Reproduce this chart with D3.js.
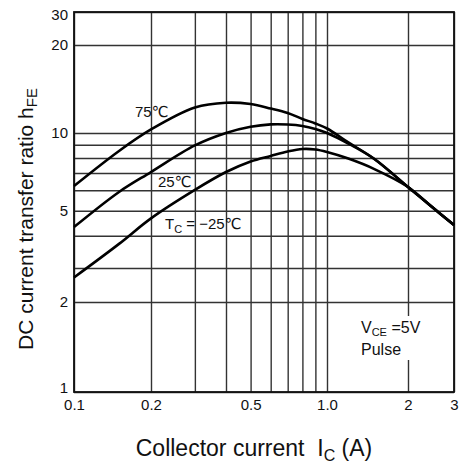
<!DOCTYPE html>
<html>
<head>
  <title>DC current transfer ratio</title>
  <script src="https://d3js.org/d3.v7.min.js"></script>
  <style>
    body { margin: 0; background: #fff; }
    text { font-family: "Liberation Sans", Arial, "DejaVu Sans", sans-serif; fill: #111; }
  </style>
</head>
<body>
<script type="text/javascript">

// ****** DATA ******

  // collector current Ic (A)
  var currents = [0.1, 0.15, 0.2, 0.3, 0.4, 0.5, 0.6, 0.7, 0.8, 0.9, 1.0, 1.2, 1.5, 2, 2.5, 3];
  // hFE for each case temperature
  var hfe75  = [6.23, 8.52, 10.28, 12.22, 12.69, 12.56, 12.13, 11.71, 11.17, 10.78, 10.36, 9.2, 7.93, 6.18, 5.12, 4.40];
  var hfe25  = [4.32, 5.91, 7.06, 8.95, 10.0, 10.5, 10.7, 10.69, 10.57, 10.32, 10.0, 9.1, 7.93, 6.18, 5.12, 4.40];
  var hfeM25 = [2.68, 3.72, 4.67, 6.02, 7.06, 7.76, 8.15, 8.48, 8.67, 8.63, 8.44, 7.96, 7.25, 6.18, 5.12, 4.40];

  // grid and tick labels
  var xGrid = [0.1, 0.2, 0.3, 0.4, 0.5, 0.6, 0.7, 0.8, 0.9, 1, 2, 3];
  var yGrid = [1, 2, 3, 4, 5, 6, 7, 8, 9, 10, 20, 30];
  var xTicks = [0.1, 0.2, 0.5, 1, 2, 3],
      xTickLabels = ["0.1", "0.2", "0.5", "1.0", "2", "3"];
  var yTicks = [1, 2, 5, 10, 20, 30];


// ****** SCALES ******

  var width = 460, height = 469;
  var plotLeft = 74, plotRight = 454, plotTop = 12, plotBottom = 392;

  // the printed grid is not quite even, so the log scales get a few anchor points
  var x = d3.scaleLog()
    .domain([0.1, 0.2, 0.4, 1, 2, 3])
    .range([plotLeft, 151, 226, 327, 408, plotRight]);

  var y = d3.scaleLog()
    .domain([1, 2, 3, 10, 20, 30])
    .range([plotBottom, 302, 268, 133, 45, plotTop]);


// ****** CREATE ELEMENTS ******

  var svg = d3.select("body")
    .append("svg")
    .attr("width", width)
    .attr("height", height);

  // grid lines
  svg.append("g")
    .attr("transform", "translate(0," + plotBottom + ")")
    .call(d3.axisBottom(x).tickValues(xGrid).tickSize(-(plotBottom - plotTop)).tickFormat(""))
    .call(function (g) { g.select(".domain").remove(); })
    .selectAll("line")
    .attr("stroke", "#333")
    .attr("stroke-width", 1.4);

  svg.append("g")
    .attr("transform", "translate(" + plotLeft + ",0)")
    .call(d3.axisLeft(y).tickValues(yGrid).tickSize(-(plotRight - plotLeft)).tickFormat(""))
    .call(function (g) { g.select(".domain").remove(); })
    .selectAll("line")
    .attr("stroke", "#333")
    .attr("stroke-width", 1.4);

  // frame
  svg.append("rect")
    .attr("x", plotLeft)
    .attr("y", plotTop)
    .attr("width", plotRight - plotLeft)
    .attr("height", plotBottom - plotTop)
    .attr("fill", "none")
    .attr("stroke", "#111")
    .attr("stroke-width", 1.8);

  // tick labels
  svg.append("g")
    .attr("transform", "translate(0," + plotBottom + ")")
    .call(d3.axisBottom(x).tickValues(xTicks).tickSize(0).tickPadding(7)
      .tickFormat(function (d, i) { return xTickLabels[i]; }))
    .call(function (g) { g.select(".domain").remove(); })
    .selectAll("text")
    .style("font-size", "15px")
    .attr("fill", "#111");

  svg.append("g")
    .attr("transform", "translate(" + plotLeft + ",0)")
    .call(d3.axisLeft(y).tickValues(yTicks).tickSize(0).tickPadding(6)
      .tickFormat(d3.format("d")))
    .call(function (g) { g.select(".domain").remove(); })
    .selectAll("text")
    .style("font-size", "15px")
    .attr("fill", "#111")
    // the end labels sit a little inside the frame, as printed
    .attr("dy", function (d) { return d === 1 ? "0.05em" : d === 30 ? "0.52em" : "0.32em"; });

  // curves
  var line = d3.line()
    .x(function (d, i) { return x(currents[i]); })
    .y(function (d) { return y(d); })
    .curve(d3.curveCatmullRom.alpha(0.5));

  [hfe75, hfe25, hfeM25].forEach(function (series) {
    svg.append("path")
      .attr("d", line(series))
      .attr("fill", "none")
      .attr("stroke", "#000")
      .attr("stroke-width", 2.6);
  });

  // curve labels
  svg.append("text")
    .attr("x", 135).attr("y", 116.5)
    .style("font-size", "15px")
    .text("75℃");

  svg.append("text")
    .attr("x", 158).attr("y", 187)
    .style("font-size", "15px")
    .text("25℃");

  var tc = svg.append("text")
    .attr("x", 165).attr("y", 229)
    .style("font-size", "15px");
  tc.append("tspan").text("T");
  tc.append("tspan").attr("dy", 4).style("font-size", "11px").text("C");
  tc.append("tspan").attr("dy", -4).text(" = −25℃");

  // conditions box, it hides the grid line behind it
  svg.append("rect")
    .attr("x", 358).attr("y", 316)
    .attr("width", 72).attr("height", 44)
    .attr("fill", "#fff");

  var vce = svg.append("text")
    .attr("x", 361).attr("y", 333)
    .style("font-size", "16px");
  vce.append("tspan").text("V");
  vce.append("tspan").attr("dy", 3).style("font-size", "11px").text("CE");
  vce.append("tspan").attr("dy", -3).text(" =5V");

  svg.append("text")
    .attr("x", 361).attr("y", 355)
    .style("font-size", "16px")
    .text("Pulse");

  // axis titles
  var xTitle = svg.append("text")
    .attr("x", 254).attr("y", 456)
    .attr("text-anchor", "middle")
    .style("font-size", "23px");
  xTitle.append("tspan").text("Collector current\u00a0\u00a0I");
  xTitle.append("tspan").attr("dy", 5).style("font-size", "16px").text("C");
  xTitle.append("tspan").attr("dy", -5).text(" (A)");

  var yTitle = svg.append("text")
    .attr("transform", "translate(33,219) rotate(-90)")
    .attr("text-anchor", "middle")
    .style("font-size", "21px");
  yTitle.append("tspan").text("DC current transfer ratio h");
  yTitle.append("tspan").attr("dy", 4).style("font-size", "15px").text("FE");

</script>
</body>
</html>
